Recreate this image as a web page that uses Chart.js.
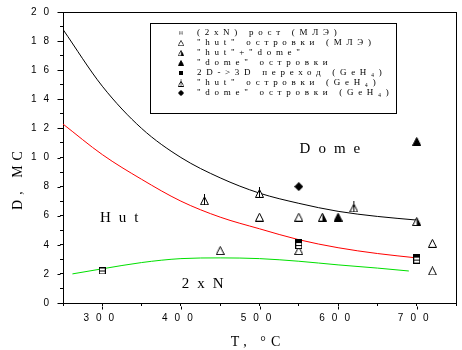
<!DOCTYPE html>
<html><head><meta charset="utf-8">
<script src="https://cdn.jsdelivr.net/npm/chart.js@4"></script>
<style>html,body{margin:0;padding:0;background:#fff}#wrap{width:462px;height:350px;position:relative}</style>
</head><body><div id="wrap"><canvas id="c"></canvas></div>
<script>
// ---------------- data ----------------
const xTickLabels = [300, 400, 500, 600, 700];
const yTickLabels = [0, 2, 4, 6, 8, 10, 12, 14, 16, 18, 20];

const curveUpperT  = [250, 300, 350, 400, 450, 500, 550, 600, 650, 700];
const curveUpperD  = [18.8, 14.9, 12.0, 10.0, 8.6, 7.55, 6.85, 6.3, 5.95, 5.7];
const curveMiddleT = [250, 300, 350, 400, 450, 500, 550, 600, 650, 700];
const curveMiddleD = [12.3, 10.2, 8.5, 7.0, 5.9, 5.1, 4.35, 3.8, 3.4, 3.1];
const curveLowerT  = [262, 300, 350, 400, 450, 500, 550, 600, 650, 690];
const curveLowerD  = [2.0, 2.35, 2.78, 3.05, 3.1, 3.05, 2.87, 2.62, 2.4, 2.2];

const growth2xN_T = [300, 550, 700];
const growth2xN_D = [2.2, 3.95, 2.95];
const hutMBE_T = [450, 500, 550, 550, 720, 720];
const hutMBE_D = [3.6, 5.9, 5.9, 3.6, 4.1, 2.2];
const hutDome_T = [580, 700];
const hutDome_D = [5.9, 5.6];
const domeMBE_T = [600, 700];
const domeMBE_D = [5.9, 11.1];
const trans2D3D_T = [550, 700];
const trans2D3D_D = [4.15, 3.15];
const hutGeH4_T = [430, 500, 620];
const hutGeH4_D = [7.1, 7.6, 6.6];
const domeGeH4_T = [550];
const domeGeH4_D = [8.0];

const seriesLabels = [
  '(2хN) рост (МЛЭ)',
  '"hut" островки (МЛЭ)',
  '"hut"+"dome"',
  '"dome" островки',
  '2D->3D переход (GeH₄)',
  '"hut" островки (GeH₄)',
  '"dome" островки (GeH₄)'
];
const regionLabels = ['Dome', 'Hut', '2xN'];
const yTitle = 'D, МС';
const xTitle = 'T, °C';

// ---------------- markers (style only) ----------------
function mk(w, h, draw) {
  const c = document.createElement('canvas'); c.width = w; c.height = h;
  const g = c.getContext('2d'); g.lineWidth = 1; g.strokeStyle = '#000'; g.fillStyle = '#000';
  draw(g, w, h); return c;
}
function tri(g, x0, y0, w, h) { g.beginPath(); g.moveTo(x0 + 0.5, y0 + h - 0.5); g.lineTo(x0 + w / 2, y0 + 0.5); g.lineTo(x0 + w - 0.5, y0 + h - 0.5); g.closePath(); }
const mSqLine = mk(7, 7, g => { g.fillStyle = '#fff'; g.fillRect(0, 0, 7, 7); g.strokeRect(0.5, 0.5, 6, 6); g.beginPath(); g.moveTo(0.5, 3.5); g.lineTo(6.5, 3.5); g.stroke(); });
const mSqFill = mk(7, 7, g => { g.fillRect(0, 0, 7, 7); });
const mTriOpen = mk(9, 9, g => { tri(g, 0, 0, 9, 9); g.fillStyle = '#fff'; g.fill(); g.stroke(); });
const mTriFill = mk(9, 9, g => { tri(g, 0, 0, 9, 9); g.fill(); g.stroke(); });
const mTriHalf = mk(9, 9, g => { tri(g, 0, 0, 9, 9); g.fillStyle = '#fff'; g.fill(); g.stroke();
  g.fillStyle = '#000'; g.beginPath(); g.moveTo(4.5, 0.5); g.lineTo(8.5, 8.5); g.lineTo(4.5, 8.5); g.closePath(); g.fill(); });
const mTriLine = mk(9, 11, g => { tri(g, 0, 2, 9, 9); g.fillStyle = '#fff'; g.fill(); g.stroke();
  g.beginPath(); g.moveTo(4.5, 0); g.lineTo(4.5, 10.5); g.stroke(); });
const mDiamond = mk(9, 9, g => { g.beginPath(); g.moveTo(4.5, 0); g.lineTo(9, 4.5); g.lineTo(4.5, 9); g.lineTo(0, 4.5); g.closePath(); g.fill(); });

const pts = (xs, ys) => xs.map((x, i) => ({ x, y: ys[i] }));
const scatter = (label, xs, ys, style, order) => ({
  label, data: pts(xs, ys), showLine: false, pointStyle: style, pointRadius: 5,
  pointHoverRadius: 5, order, inLegend: true
});
const curve = (xs, ys, color) => ({
  data: pts(xs, ys), showLine: true, borderColor: color, borderWidth: 1, pointRadius: 0,
  tension: 0.4, cubicInterpolationMode: 'monotone', order: 10, inLegend: false
});

const datasets = [
  scatter(seriesLabels[0], growth2xN_T, growth2xN_D, mSqLine, 1),
  scatter(seriesLabels[1], hutMBE_T, hutMBE_D, mTriOpen, 3),
  scatter(seriesLabels[2], hutDome_T, hutDome_D, mTriHalf, 3),
  scatter(seriesLabels[3], domeMBE_T, domeMBE_D, mTriFill, 3),
  scatter(seriesLabels[4], trans2D3D_T, trans2D3D_D, mSqFill, 2),
  scatter(seriesLabels[5], hutGeH4_T, hutGeH4_D, mTriLine, 3),
  scatter(seriesLabels[6], domeGeH4_T, domeGeH4_D, mDiamond, 3),
  curve(curveUpperT, curveUpperD, '#000'),
  curve(curveMiddleT, curveMiddleD, '#ff0000'),
  curve(curveLowerT, curveLowerD, '#00e000')
];

// ---------------- decorations plugin ----------------
const decor = {
  id: 'decor',
  beforeDraw(chart) {
    const ctx = chart.ctx;
    ctx.save(); ctx.fillStyle = '#fff'; ctx.fillRect(0, 0, chart.width, chart.height); ctx.restore();
    ctx.letterSpacing = '7px';
  },
  beforeDatasetsDraw(chart) {
    const { ctx, chartArea: a, scales: { x, y } } = chart;
    ctx.letterSpacing = '0px';
    ctx.save();
    ctx.strokeStyle = '#000'; ctx.lineWidth = 1;
    const l = Math.round(a.left) + 0.5, t = Math.round(a.top) + 0.5;
    const r = Math.round(a.right) + 0.5, b = Math.round(a.bottom) + 0.5;
    ctx.strokeRect(l, t, r - l, b - t);
    // longer marks at labelled (major) ticks
    ctx.beginPath();
    yTickLabels.forEach(v => { const py = Math.round(y.getPixelForValue(v)) + 0.5; ctx.moveTo(l - 6, py); ctx.lineTo(l - 3, py); });
    xTickLabels.forEach(v => { const px = Math.round(x.getPixelForValue(v)) + 0.5; ctx.moveTo(px, b + 3); ctx.lineTo(px, b + 6); });
    ctx.stroke();
    ctx.restore();
  },
  afterDraw(chart) {
    const { ctx, scales: { x, y } } = chart;
    ctx.save();
    ctx.fillStyle = '#000';
    // region annotations
    ctx.font = '15px "Liberation Serif"';
    ctx.letterSpacing = '8px';
    ctx.textBaseline = 'middle'; ctx.textAlign = 'left';
    const regPos = [[551, 10.6], [297, 5.84], [401, 1.3]];
    regionLabels.forEach((s, i) => ctx.fillText(s, x.getPixelForValue(regPos[i][0]), y.getPixelForValue(regPos[i][1])));
    // axis titles
    ctx.font = '14px "Liberation Serif"';
    ctx.letterSpacing = '5px';
    ctx.textAlign = 'center';
    ctx.fillText(xTitle, 258, 342);
    ctx.save();
    ctx.translate(18, 178); ctx.rotate(-Math.PI / 2);
    ctx.fillText(yTitle, 0, 0);
    ctx.restore();
    // legend
    const L = 150.5, T = 23.5, R = 396.5, B = 113.5;
    ctx.fillStyle = '#fff'; ctx.fillRect(L, T, R - L, B - T);
    ctx.strokeStyle = '#000'; ctx.lineWidth = 1; ctx.strokeRect(L, T, R - L, B - T);
    ctx.fillStyle = '#000';
    ctx.font = '9px "Liberation Serif"';
    ctx.letterSpacing = '4.7px';
    ctx.textAlign = 'left'; ctx.textBaseline = 'middle';
    let row = 0;
    chart.data.datasets.forEach(ds => {
      if (!ds.inLegend) return;
      const cy = 33 + row * 10;
      const img = ds.pointStyle;
      const sc = 0.7, w = img.width * sc, h = img.height * sc;
      ctx.drawImage(img, 181 - w / 2, cy - h / 2, w, h);
      ctx.fillText(ds.label, 197, cy);
      row++;
    });
    ctx.restore();
    ctx.letterSpacing = '0px';
  }
};

new Chart(document.getElementById('c'), {
  type: 'scatter',
  data: { datasets },
  options: {
    responsive: true, maintainAspectRatio: false, animation: false,
    layout: { padding: { top: 12, right: 5, left: 0, bottom: 0 } },
    plugins: { legend: { display: false }, tooltip: { enabled: false } },
    scales: {
      x: {
        type: 'linear', min: 250, max: 750,
        afterFit: s => { s.height = 47; },
        border: { display: false },
        grid: { display: true, drawOnChartArea: false, drawTicks: true, tickLength: 3, color: '#000' },
        ticks: {
          stepSize: 50, autoSkip: false, maxRotation: 0, padding: 6, color: '#000',
          font: { family: '"Liberation Sans", Arial', size: 10 },
          callback: v => xTickLabels.includes(v) ? String(v) : ''
        }
      },
      y: {
        min: 0, max: 20,
        afterFit: s => { s.width = 63; },
        border: { display: false },
        grid: { display: true, drawOnChartArea: false, drawTicks: true, tickLength: 3, color: '#000' },
        ticks: {
          stepSize: 1, autoSkip: false, padding: 4, color: '#000',
          font: { family: '"Liberation Sans", Arial', size: 10 },
          callback: v => yTickLabels.includes(v) ? String(v) : ''
        }
      }
    }
  },
  plugins: [decor]
});
</script></body></html>
